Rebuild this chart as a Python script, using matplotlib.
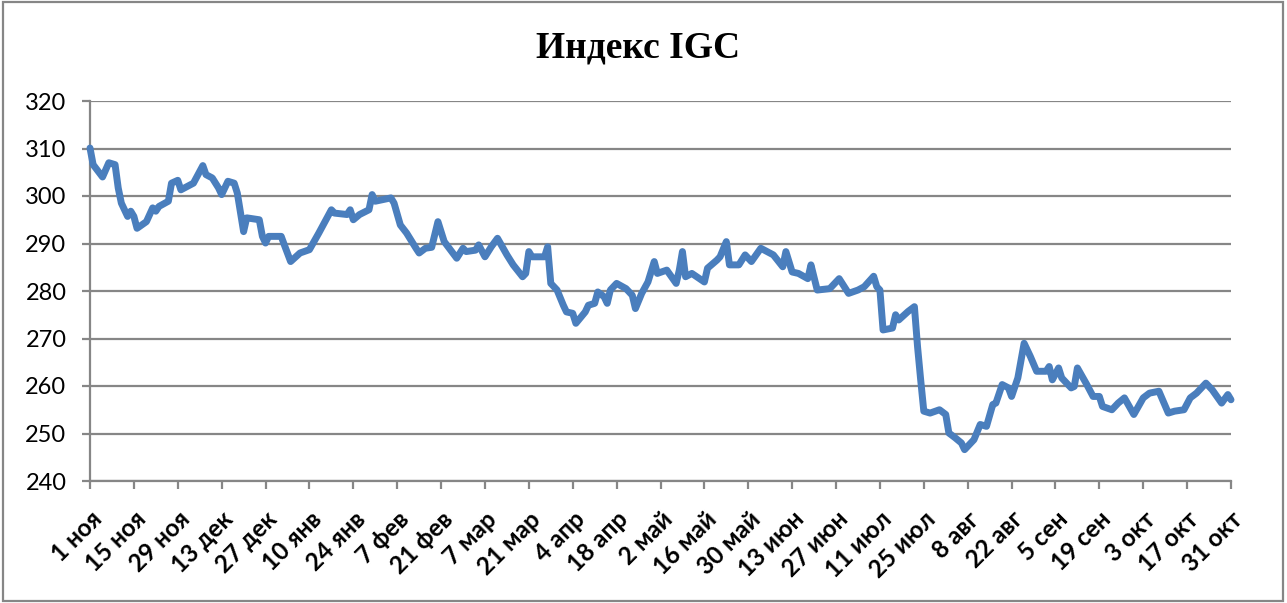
import matplotlib
matplotlib.use("Agg")
import matplotlib.pyplot as plt
from matplotlib.patches import Rectangle

# ---- data (day offset from 1 Nov, index value) ----
days = [0, 1, 4, 6, 8, 9, 10, 12, 13, 14, 15, 18, 20, 21, 22, 25, 26, 28, 29, 33,
        36, 37, 39, 41, 42, 44, 46, 47, 49, 50, 54, 55, 56, 57, 61, 62, 64, 67, 70, 73,
        77, 78, 82, 83, 84, 86, 89, 90, 91, 96, 97, 99, 101, 104, 105, 107, 109, 111, 113, 117,
        119, 120, 123, 124, 126, 128, 130, 133, 135, 138, 139, 140, 141, 145, 146, 147, 149, 151, 152, 154,
        155, 158, 159, 161, 162, 164, 165, 166, 168, 171, 173, 174, 176, 178, 180, 181, 184, 187, 188, 189,
        190, 192, 196, 197, 200, 201, 203, 204, 207, 209, 211, 214, 216, 218, 221, 222, 224, 226, 229, 230,
        232, 236, 239, 242, 245, 247, 250, 251, 252, 253, 256, 257, 258, 261, 263, 264, 265, 266, 268, 271,
        273, 274, 276, 278, 279, 281, 282, 284, 286, 288, 289, 291, 293, 294, 296, 298, 300, 302, 305, 306,
        307, 309, 310, 313, 314, 315, 318, 320, 322, 323, 326, 328, 330, 333, 336, 338, 341, 344, 346, 349,
        351, 353, 356, 358, 361, 363, 364]
values = [310.1, 306.6, 304.0, 307.0, 306.6, 301.7, 298.5, 295.7, 296.8, 295.7, 293.2, 294.6, 297.5, 296.8, 297.8, 298.9, 302.7, 303.3, 301.3, 302.7,
          306.4, 304.5, 303.8, 301.7, 300.3, 303.1, 302.7, 300.6, 292.5, 295.4, 295.0, 291.5, 290.1, 291.5, 291.5, 289.7, 286.2, 288.0, 288.7, 292.2,
          297.1, 296.4, 296.1, 297.1, 295.0, 296.1, 297.1, 300.3, 298.9, 299.6, 298.5, 293.9, 292.2, 289.0, 288.0, 289.0, 289.2, 294.6, 290.4, 286.9,
          289.0, 288.3, 288.6, 289.7, 287.2, 289.3, 291.1, 287.6, 285.5, 283.0, 283.7, 288.3, 287.2, 287.2, 289.3, 281.6, 280.2, 277.0, 275.6, 275.3,
          273.2, 275.6, 277.0, 277.4, 279.8, 278.8, 277.4, 280.2, 281.6, 280.5, 279.1, 276.3, 279.5, 281.9, 286.2, 283.7, 284.4, 281.6, 284.4, 288.3,
          283.0, 283.7, 281.9, 284.8, 286.5, 287.2, 290.4, 285.5, 285.5, 287.6, 286.2, 289.0, 288.3, 287.6, 285.1, 288.3, 284.0, 283.7, 282.6, 285.5,
          280.2, 280.5, 282.6, 279.5, 280.2, 280.9, 283.1, 280.9, 280.2, 271.8, 272.2, 275.0, 273.9, 275.7, 276.7, 268.3, 261.3, 254.7, 254.3, 255.0,
          254.0, 250.1, 249.1, 248.0, 246.6, 248.0, 248.7, 251.9, 251.5, 256.1, 256.4, 260.3, 259.6, 257.8, 261.7, 269.0, 266.2, 263.1, 263.1, 264.1,
          261.3, 263.8, 261.7, 259.6, 259.9, 263.8, 260.3, 257.8, 257.8, 255.7, 255.0, 256.4, 257.5, 254.0, 257.5, 258.5, 258.9, 254.3, 254.7, 255.0,
          257.5, 258.5, 260.6, 259.2, 256.4, 258.2, 257.1]

tick_days = [0, 14, 28, 42, 56, 70, 84, 98, 112, 126, 140, 154, 168, 182, 196, 210,
             224, 238, 252, 266, 280, 294, 308, 322, 336, 350, 364]
tick_labels = ["1 ноя", "15 ноя", "29 ноя", "13 дек", "27 дек", "10 янв", "24 янв",
               "7 фев", "21 фев", "7 мар", "21 мар", "4 апр", "18 апр", "2 май",
               "16 май", "30 май", "13 июн", "27 июн", "11 июл", "25 июл", "8 авг",
               "22 авг", "5 сен", "19 сен", "3 окт", "17 окт", "31 окт"]
y_ticks = [240, 250, 260, 270, 280, 290, 300, 310, 320]
title = "Индекс IGC"

GRAY = "#868686"
BLUE = "#4a7ebd"

fig = plt.figure(figsize=(12.87, 6.03), dpi=100)
fig.patch.set_facecolor("white")
fig.patches.append(Rectangle((0.002, 0.003), 0.995, 0.994, transform=fig.transFigure,
                             fill=False, edgecolor=GRAY, linewidth=1.6))

ax = fig.add_axes([90/1287, 1-481/603, (1231-90)/1287, (481-101)/603])
ax.plot(days, values, color=BLUE, linewidth=5.0, solid_joinstyle="round",
        solid_capstyle="round", zorder=3, clip_on=False)

ax.set_xlim(0, 364)
ax.set_ylim(240, 320)
ax.set_yticks(y_ticks)
ax.set_yticklabels([str(v) for v in y_ticks], fontsize=17, family="Lato")
ax.yaxis.grid(True, color=GRAY, linewidth=1.6)
ax.set_axisbelow(True)

ax.set_xticks(tick_days)
ax.set_xticklabels(tick_labels, rotation=45, ha="right", va="top",
                   rotation_mode="anchor", fontsize=17.5, fontweight="bold",
                   family="Lato")

for s in ["top", "right"]:
    ax.spines[s].set_visible(False)
for s in ["left", "bottom"]:
    ax.spines[s].set_color(GRAY)
    ax.spines[s].set_linewidth(1.6)

ax.tick_params(axis="y", direction="out", length=6, width=1.6, color=GRAY, pad=11)
ax.tick_params(axis="x", direction="out", length=6, width=1.6, color=GRAY, pad=13)

fig.text(0.4955, 0.920, title, ha="center", va="center", fontsize=27,
         fontweight="bold", family="Liberation Serif")

fig.savefig("out.png", dpi=100, facecolor="white")
